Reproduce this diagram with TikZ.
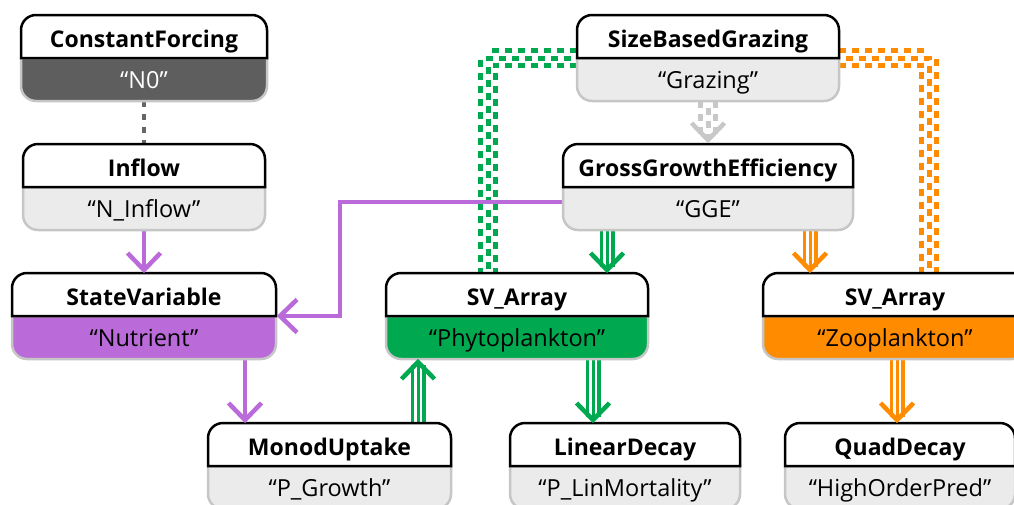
\documentclass[tikz,border=0pt]{standalone}
\usepackage{fontspec}
\setmainfont{Open Sans}
\usetikzlibrary{calc}
\definecolor{lightfill}{HTML}{EBEBEB}
\definecolor{lightedge}{HTML}{C6C6C6}
\definecolor{darkfill}{HTML}{5E5E5E}
\definecolor{purp}{HTML}{BB6BD9}
\definecolor{grn}{HTML}{00A94F}
\definecolor{orng}{HTML}{FF8C00}
\definecolor{dashgray}{HTML}{666666}
\definecolor{arrgray}{HTML}{C8C8C8}
\tikzset{
  titletext/.style={font=\bfseries\fontsize{23}{27}\selectfont, anchor=base, inner sep=0},
  subtext/.style={font=\fontsize{23.5}{27}\selectfont, anchor=base, inner sep=0},
  boxframe/.style={inner sep=0, outer sep=0},
  singlearrow/.style={line width=4pt},
  chev/.style={line width=4.5pt, miter limit=10},
}
% #1 name, #2 centre x, #3 width, #4 top y (pixels, downward), #5 title, #6 subtitle, #7 fill, #8 text colour
\newcommand\umlbox[8]{%
  \node[boxframe, minimum width=#3pt, minimum height=86pt] (#1) at (#2,-#4-43) {};
  \path[fill=#7, draw=lightedge, line width=2.5pt]
    (#1.west) -- ([yshift=15pt]#1.south west) arc[start angle=180, end angle=270, radius=15pt]
    -- ([xshift=-15pt]#1.south east) arc[start angle=270, end angle=360, radius=15pt]
    -- (#1.east) -- cycle;
  \path[fill=white, draw=black, line width=2.5pt]
    (#1.west) -- ([yshift=-15pt]#1.north west) arc[start angle=180, end angle=90, radius=15pt]
    -- ([xshift=-15pt]#1.north east) arc[start angle=90, end angle=0, radius=15pt]
    -- (#1.east) -- cycle;
  \node[titletext] (#1-t) at ([yshift=-32pt]#1.north) {#5};
  \node[subtext, text=#8] (#1-s) at ([yshift=-30pt]#1.center) {#6};
}
% triple line: #1 colour, #2 path
\newcommand\tripleline[2]{%
  \draw[#1, line width=15pt] #2;
  \draw[white, line width=8pt] #2;
  \draw[#1, line width=3pt] #2;
}
\newcommand\tripledash[2]{%
  \draw[#1, line width=20pt, dash pattern=on 7pt off 6pt] #2;
  \draw[white, line width=10pt] #2;
  \draw[#1, line width=5pt, dash pattern=on 7pt off 6pt, dash phase=6.5pt] #2;
}
% chevron: #1 colour, #2 tip, #3 rotation (0 = pointing down)
\newcommand\chevron[3]{%
  \draw[#1, chev, shift={(#2)}, rotate=#3] (-16.5,17) -- (0,0) -- (16.5,17);
}
\begin{document}
\begin{tikzpicture}[x=1pt, y=1pt]
\useasboundingbox (0,0) rectangle (1014,-504);
\clip (0,0) rectangle (1014,-504);

% frames (positions only)
\node[boxframe, minimum width=246pt, minimum height=86pt] (cf) at (144,-58) {};
\node[boxframe, minimum width=242pt, minimum height=86pt] (inflow) at (144,-187) {};
\node[boxframe, minimum width=264pt, minimum height=86pt] (sv) at (144,-316) {};
\node[boxframe, minimum width=262pt, minimum height=86pt] (sbg) at (708,-58) {};
\node[boxframe, minimum width=290pt, minimum height=86pt] (gge) at (708,-187) {};
\node[boxframe, minimum width=262pt, minimum height=86pt] (phy) at (517,-316) {};
\node[boxframe, minimum width=264pt, minimum height=86pt] (zoo) at (895,-316) {};
\node[boxframe, minimum width=243pt, minimum height=86pt] (monod) at (329.5,-466) {};
\node[boxframe, minimum width=230pt, minimum height=86pt] (lin) at (625,-466) {};
\node[boxframe, minimum width=230pt, minimum height=86pt] (quad) at (900,-466) {};

% helper coordinates
\coordinate (gx) at (488,0);
\coordinate (ox) at (929,0);
\coordinate (px) at (340,0);
\coordinate (m1) at (245,0);
\coordinate (m2) at (418,0);
\coordinate (l1) at (593,0);
\coordinate (g1) at (607,0);
\coordinate (z1) at (810,0);
\coordinate (q1) at (897,0);

% connectors behind boxes
\draw[dashgray, line width=4pt, dash pattern=on 6pt off 7pt] (cf.south) -- (inflow.north);
\tripledash{grn}{(sbg.west) -| (gx |- phy.north)}
\tripledash{orng}{(sbg.east) -| (ox |- zoo.north)}
\tripledash{arrgray}{(sbg.south) -- ([yshift=6pt]gge.north)}
\draw[purp, singlearrow] (inflow.south) -- ([yshift=3pt]sv.north);
\draw[purp, singlearrow] ([yshift=-15pt]gge.west) -| (px |- sv.east) -- ([xshift=3pt]sv.east);
\draw[purp, singlearrow] (m1 |- sv.south) -- ([yshift=3pt]m1 |- monod.north);
\tripleline{grn}{(m2 |- monod.north) -- ([yshift=-6pt]m2 |- phy.south)}
\tripleline{grn}{(l1 |- phy.south) -- ([yshift=6pt]l1 |- lin.north)}
\tripleline{grn}{(g1 |- gge.south) -- ([yshift=6pt]g1 |- phy.north)}
\tripleline{orng}{(z1 |- gge.south) -- ([yshift=6pt]z1 |- zoo.north)}
\tripleline{orng}{(q1 |- zoo.south) -- ([yshift=6pt]q1 |- quad.north)}

% boxes
\umlbox{cf}{144}{246}{15}{ConstantForcing}{“N0”}{darkfill}{white}
\umlbox{inflow}{144}{242}{144}{Inflow}{“N\_Inflow”}{lightfill}{black}
\umlbox{sv}{144}{264}{273}{StateVariable}{“Nutrient”}{purp}{black}
\umlbox{sbg}{708}{262}{15}{SizeBasedGrazing}{“Grazing”}{lightfill}{black}
\umlbox{gge}{708}{290}{144}{GrossGrowthEfficiency}{“GGE”}{lightfill}{black}
\umlbox{phy}{517}{262}{273}{SV\_Array}{“Phytoplankton”}{grn}{black}
\umlbox{zoo}{895}{264}{273}{SV\_Array}{“Zooplankton”}{orng}{black}
\umlbox{monod}{329.5}{243}{423}{MonodUptake}{“P\_Growth”}{lightfill}{black}
\umlbox{lin}{625}{230}{423}{LinearDecay}{“P\_LinMortality”}{lightfill}{black}
\umlbox{quad}{900}{230}{423}{QuadDecay}{“HighOrderPred”}{lightfill}{black}

% arrow heads
\chevron{purp}{[yshift=3pt]sv.north}{0}
\chevron{purp}{[xshift=4pt]sv.east}{-90}
\chevron{purp}{[yshift=3pt]m1 |- monod.north}{0}
\chevron{grn}{[yshift=-3pt]m2 |- phy.south}{180}
\chevron{grn}{[yshift=3pt]l1 |- lin.north}{0}
\chevron{grn}{[yshift=3pt]g1 |- phy.north}{0}
\chevron{orng}{[yshift=3pt]z1 |- zoo.north}{0}
\chevron{orng}{[yshift=3pt]q1 |- quad.north}{0}
\chevron{arrgray}{[yshift=4pt]gge.north}{0}
\end{tikzpicture}
\end{document}
